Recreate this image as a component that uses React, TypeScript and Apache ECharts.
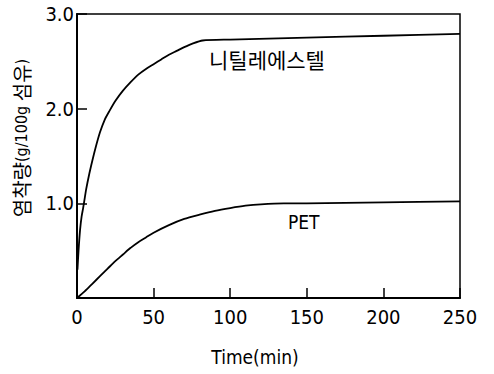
import React, { useEffect, useRef } from "react";
import * as echarts from "echarts";

const xTicks = [0, 50, 100, 150, 200, 250];
const yTicks = [0, 1, 2, 3];
const nitrileData: [number, number][] = [
  [0.3, 0.3], [1, 0.5], [2, 0.72], [3, 0.86], [4, 0.95], [5, 1.05], [6, 1.15],
  [8, 1.31], [10, 1.45], [12, 1.58], [15, 1.75], [18, 1.88], [21, 1.97],
  [25, 2.08], [30, 2.19], [35, 2.28], [40, 2.36], [45, 2.42], [50, 2.47],
  [55, 2.52], [60, 2.57], [65, 2.61], [70, 2.65], [75, 2.685], [82, 2.72],
  [100, 2.73], [150, 2.75], [200, 2.77], [250, 2.79],
];
const petData: [number, number][] = [
  [0, 0], [5, 0.07], [10, 0.15], [15, 0.23], [20, 0.31], [25, 0.39],
  [30, 0.46], [35, 0.53], [40, 0.59], [45, 0.64], [50, 0.69], [60, 0.77],
  [70, 0.835], [80, 0.88], [90, 0.92], [100, 0.95], [110, 0.975],
  [120, 0.99], [135, 1.0], [150, 1.0], [200, 1.01], [250, 1.02],
];
const nitrileLabel = "니틸레에스텔";
const petLabel = "PET";
const xName = "Time(min)";
const yNameParts = ["염착량", "(g/100g ", "섬유", ")"];

const NARROW = "'Liberation Sans Narrow', 'DejaVu Sans Condensed', 'Roboto Condensed', sans-serif";
const KR = "'Noto Sans CJK KR', 'Noto Sans', sans-serif";

export default function App() {
  const ref = useRef<HTMLDivElement>(null);
  useEffect(() => {
    if (!ref.current) return;
    const chart = echarts.init(ref.current, undefined, { renderer: "svg" });
    chart.setOption({
      animation: false,
      backgroundColor: "#ffffff",
      grid: {
        left: 77, right: 34, top: 14, bottom: 76,
        show: true, borderColor: "#000", borderWidth: 1.5,
      },
      xAxis: {
        type: "value", min: xTicks[0], max: xTicks[xTicks.length - 1], interval: 50,
        axisLine: { show: true, lineStyle: { color: "#000", width: 2 } },
        axisTick: { show: true, inside: true, length: 10, lineStyle: { color: "#000", width: 1.5 } },
        splitLine: { show: false },
        axisLabel: { color: "#000", fontFamily: NARROW, fontSize: 20, fontWeight: "normal", margin: 9 },
      },
      yAxis: {
        type: "value", min: yTicks[0], max: yTicks[yTicks.length - 1], interval: 1,
        axisLine: { show: true, lineStyle: { color: "#000", width: 2 } },
        axisTick: { show: true, inside: true, length: 10, lineStyle: { color: "#000", width: 1.5 } },
        splitLine: { show: false },
        axisLabel: {
          color: "#000", fontFamily: NARROW, fontSize: 20, fontWeight: "normal", margin: 3,
          formatter: (v: number) => (v === 0 ? "" : v.toFixed(1)),
        },
      },
      series: [
        {
          type: "line", data: nitrileData, smooth: 0.25, showSymbol: false,
          lineStyle: { color: "#000", width: 1.8 },
          markPoint: {
            symbol: "circle", symbolSize: 0,
            data: [{ coord: [124, 2.52], value: nitrileLabel }],
            label: { show: true, position: "inside", formatter: nitrileLabel, color: "#000", fontFamily: KR, fontSize: 21 },
          },
        },
        {
          type: "line", data: petData, smooth: 0.25, showSymbol: false,
          lineStyle: { color: "#000", width: 1.8 },
          markPoint: {
            symbol: "circle", symbolSize: 0,
            data: [{ coord: [148, 0.8], value: petLabel }],
            label: { show: true, position: "inside", formatter: petLabel, color: "#000", fontFamily: NARROW, fontSize: 19 },
          },
        },
      ],
      graphic: [
        {
          type: "text", x: 255, y: 357,
          style: { text: xName, fill: "#000", font: `19px ${NARROW}`, align: "center", verticalAlign: "middle" },
        },
        {
          type: "text", x: 21, y: 138, rotation: Math.PI / 2,
          style: {
            text: `{k|${yNameParts[0]}}{l|${yNameParts[1]}}{k|${yNameParts[2]}}{l|${yNameParts[3]}}`,
            align: "center", verticalAlign: "middle",
            rich: {
              k: { fill: "#000", fontFamily: KR, fontSize: 20 },
              l: { fill: "#000", fontFamily: NARROW, fontSize: 16 },
            },
          },
        },
      ],
    });
    return () => chart.dispose();
  }, []);
  return <div ref={ref} style={{ width: 494, height: 374, position: "absolute", left: 0, top: 0 }} />;
}
